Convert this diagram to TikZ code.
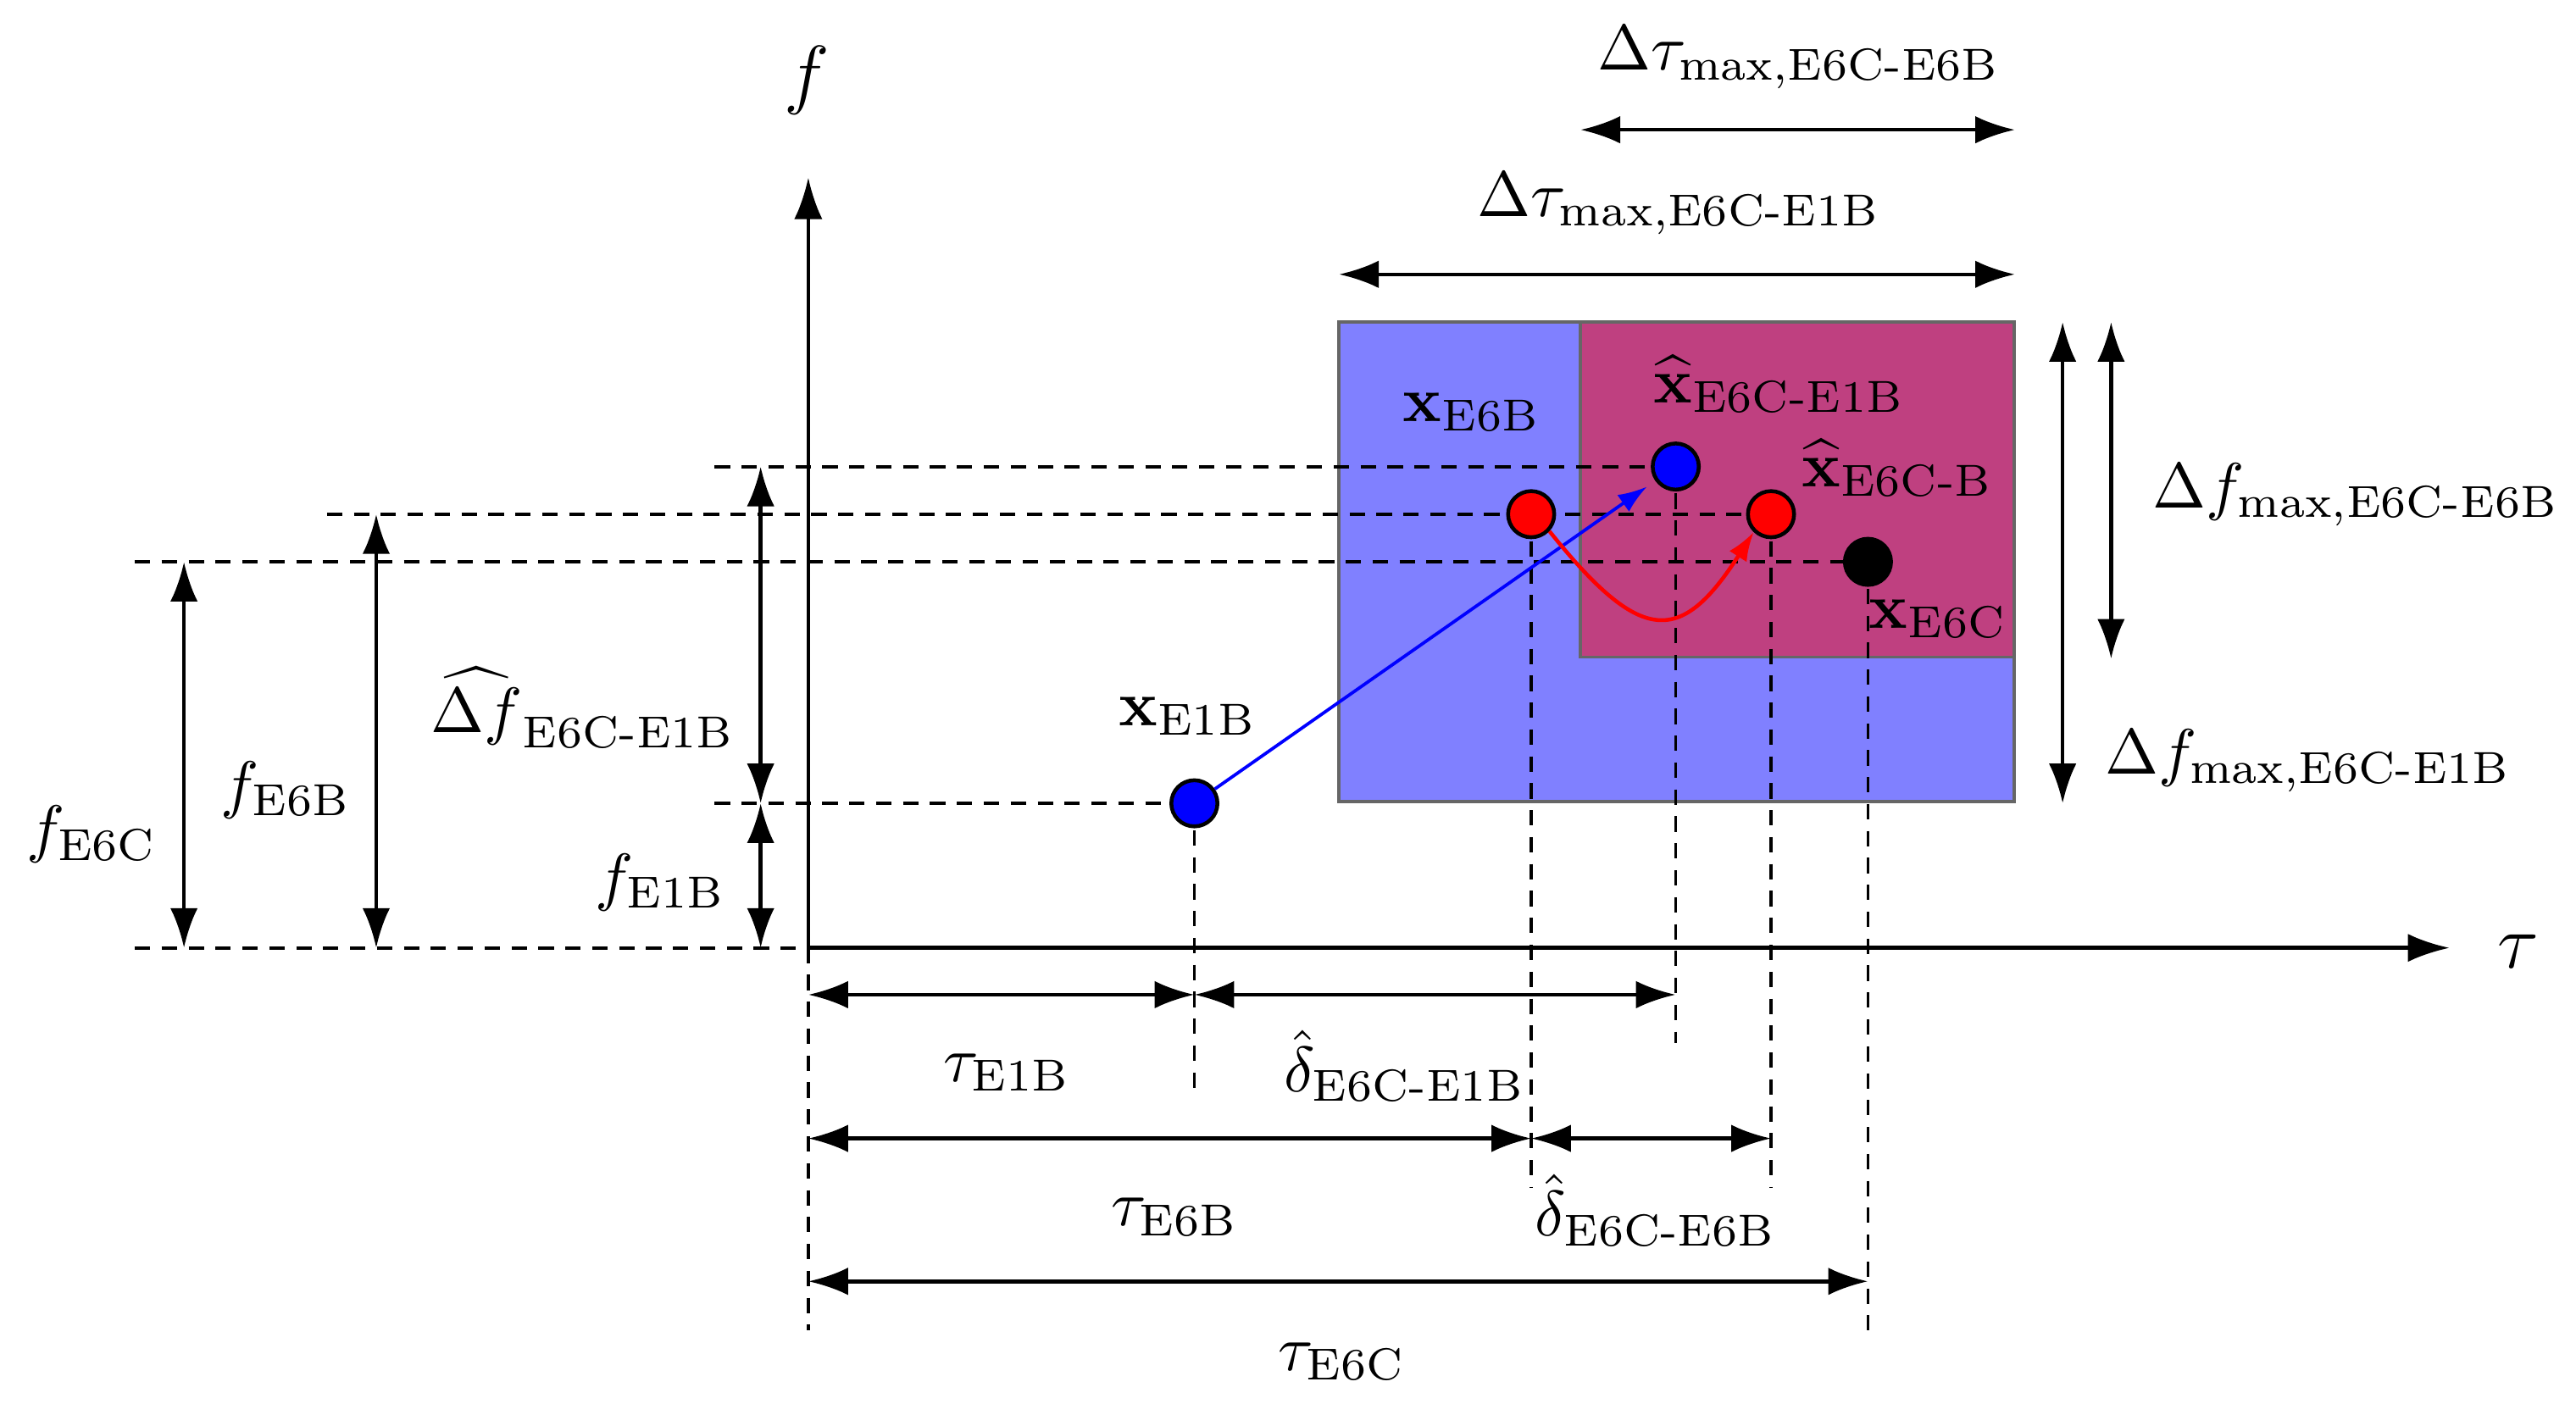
\documentclass[tikz,border=0pt]{standalone}
\usepackage{amsmath}
\usetikzlibrary{arrows.meta}
\definecolor{boxblue}{RGB}{128,128,255}
\definecolor{boxmag}{RGB}{191,64,128}
\newcommand{\tsub}[1]{\text{#1}}
\begin{document}
\begin{tikzpicture}[x=0.2564pt,y=-0.2564pt,
  dimarrow/.style={line width=0.6pt,{Latex[length=6.2pt,width=4.3pt]}-{Latex[length=6.2pt,width=4.3pt]}},
  axisarrow/.style={line width=0.6pt,-{Latex[length=6.5pt,width=4.4pt]}},
  guide/.style={line width=0.5pt,dash pattern=on 2.4pt off 1.8pt},
  region/.style={draw=black!60,line width=0.5pt},
  dot/.style={circle,draw=black,line width=0.6pt,minimum size=7.2pt,inner sep=0pt},
  lbl/.style={inner sep=0pt},
]
\useasboundingbox (0,0) rectangle (1568,861);

% regions
\filldraw[region,fill=boxblue] (815,196) rectangle (1226,488);
\filldraw[region,fill=boxmag] (962,196) rectangle (1226,400);

% point positions
\coordinate (cO) at (492,577);
\coordinate (cE1B) at (727,489);
\coordinate (cE6B) at (932,313);
\coordinate (cH1) at (1020,284);
\coordinate (cHB) at (1078,313);
\coordinate (cE6C) at (1137,342);

% horizontal guides
\coordinate (h1) at (435,284);
\coordinate (h2) at (199,313);
\coordinate (h3) at (82,342);
\coordinate (h4) at (435,489);
\coordinate (h5) at (82,577);
\coordinate (h5e) at (777,577);
\draw[guide] (h1) -- (cH1);
\draw[guide] (h2) -- (cHB);
\draw[guide] (h3) -- (cE6C);
\draw[guide] (h4) -- (cE1B);
\draw[guide] (h5) -- (h5e);

% vertical guides
\coordinate (v0) at (492,810);
\coordinate (v1) at (727,665);
\coordinate (v2) at (932,723);
\coordinate (v3) at (1020,635);
\coordinate (v4) at (1078,723);
\coordinate (v5) at (1137,810);
\draw[guide] (cO) -- (v0);
\draw[guide] (cE1B) -- (v1);
\draw[guide] (cE6B) -- (v2);
\draw[guide] (cH1) -- (v3);
\draw[guide] (cHB) -- (v4);
\draw[guide] (cE6C) -- (v5);

% axes
\coordinate (fTop) at (492,108);
\coordinate (tRight) at (1491,577);
\draw[axisarrow] (cO) -- (fTop);
\draw[axisarrow] (cO) -- (tRight);

% left vertical dimension arrows
\coordinate (a1t) at (112,342); \coordinate (a1b) at (112,577);
\coordinate (a2t) at (229,313); \coordinate (a2b) at (229,577);
\coordinate (a3t) at (463,284); \coordinate (a3m) at (463,489); \coordinate (a3b) at (463,577);
\draw[dimarrow] (a1t) -- (a1b);
\draw[dimarrow] (a2t) -- (a2b);
\draw[dimarrow] (a3t) -- (a3m);
\draw[dimarrow] (a3m) -- (a3b);

% right vertical dimension arrows
\coordinate (r1t) at (1255.5,196); \coordinate (r1b) at (1255.5,489);
\coordinate (r2t) at (1285,196); \coordinate (r2b) at (1285,401);
\draw[dimarrow] (r1t) -- (r1b);
\draw[dimarrow] (r2t) -- (r2b);

% top horizontal dimension arrows
\coordinate (t1l) at (962,79); \coordinate (t1r) at (1226.5,79);
\coordinate (t2l) at (815,167); \coordinate (t2r) at (1226.5,167);
\draw[dimarrow] (t1l) -- (t1r);
\draw[dimarrow] (t2l) -- (t2r);

% bottom horizontal dimension arrows
\coordinate (b1a) at (492,605.5); \coordinate (b1b) at (727,605.5); \coordinate (b1c) at (1020,605.5);
\coordinate (b2a) at (492,693); \coordinate (b2b) at (932,693); \coordinate (b2c) at (1078,693);
\coordinate (b3a) at (492,780); \coordinate (b3b) at (1137,780);
\draw[dimarrow] (b1a) -- (b1b);
\draw[dimarrow] (b1b) -- (b1c);
\draw[dimarrow] (b2a) -- (b2b);
\draw[dimarrow] (b2b) -- (b2c);
\draw[dimarrow] (b3a) -- (b3b);

% points
\node[dot,fill=blue] (pE1B) at (cE1B) {};
\node[dot,fill=red] (pE6B) at (cE6B) {};
\node[dot,fill=blue] (pH1) at (cH1) {};
\node[dot,fill=red] (pHB) at (cHB) {};
\node[dot,fill=black] (pE6C) at (cE6C) {};

% transfer arrows
\draw[blue,line width=0.5pt,-{Latex[length=4.5pt,width=3.2pt]},shorten >=1.6pt] (pE1B) -- (pH1);
\draw[red,line width=0.6pt,-{Latex[length=4.5pt,width=3.2pt]}] (pE6B.-43) .. controls (999,393) and (1023,393) .. (pHB.-134);

% labels
\node[lbl] (lf) at (491,49) {\large $f$};
\node[lbl] (ltau) at (1533,579) {\large $\tau$};
\node[lbl] (lDt1) at (1095,35) {$\Delta\tau_{\tsub{max,E6C-E6B}}$};
\node[lbl] (lDt2) at (1022,124) {$\Delta\tau_{\tsub{max,E6C-E1B}}$};
\node[lbl] (lDf1) at (1434,301) {$\Delta f_{\tsub{max,E6C-E6B}}$};
\node[lbl] (lDf2) at (1405,463) {$\Delta f_{\tsub{max,E6C-E1B}}$};
\node[lbl] (lfE6C) at (56,508) {$f_{\tsub{E6C}}$};
\node[lbl] (lfE6B) at (174,481) {$f_{\tsub{E6B}}$};
\node[lbl] (lDfh) at (355,431) {$\widehat{\Delta f}_{\tsub{E6C-E1B}}$};
\node[lbl] (lfE1B) at (402,537) {$f_{\tsub{E1B}}$};
\node[lbl] (lxE1B) at (723,436) {$\mathbf{x}_{\tsub{E1B}}$};
\node[lbl] (lxE6B) at (896,251) {$\mathbf{x}_{\tsub{E6B}}$};
\node[lbl] (lxH1) at (1083,234) {$\widehat{\mathbf{x}}_{\tsub{E6C-E1B}}$};
\node[lbl] (lxHB) at (1155,285) {$\widehat{\mathbf{x}}_{\tsub{E6C-B}}$};
\node[lbl] (lxE6C) at (1180,377) {$\mathbf{x}_{\tsub{E6C}}$};
\node[lbl] (ltE1B) at (613,653) {$\tau_{\tsub{E1B}}$};
\node[lbl] (ldE1B) at (855,649) {$\hat{\delta}_{\tsub{E6C-E1B}}$};
\node[lbl] (ltE6B) at (715,741) {$\tau_{\tsub{E6B}}$};
\node[lbl] (ldE6B) at (1008,737) {$\hat{\delta}_{\tsub{E6C-E6B}}$};
\node[lbl] (ltE6C) at (817,829) {$\tau_{\tsub{E6C}}$};
\end{tikzpicture}
\end{document}
